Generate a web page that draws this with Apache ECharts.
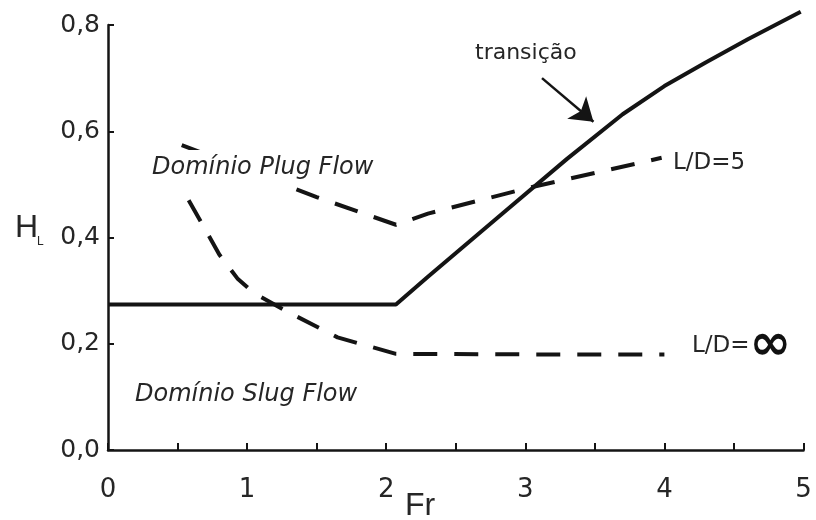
<!DOCTYPE html>
<html>
<head>
<meta charset="utf-8">
<script src="https://cdn.jsdelivr.net/npm/echarts@6/dist/echarts.min.js"></script>
<style>html,body{margin:0;padding:0;background:#fff}#c{width:816px;height:520px}</style>
</head>
<body>
<div id="c"></div>
<script>
// Transition curve (solid)
const transX = [0, 2.07, 2.3, 2.8, 3.3, 3.7, 4.0, 4.3, 4.6, 4.98];
const transY = [0.274, 0.274, 0.326, 0.437, 0.548, 0.632, 0.685, 0.730, 0.773, 0.825];
// L/D = 5 (dashed)
const ld5X = [0.53, 1.5, 2.07, 2.3, 3.0, 3.98];
const ld5Y = [0.574, 0.476, 0.424, 0.445, 0.492, 0.550];
// L/D = infinity (dashed)
const ldInfX = [0.58, 0.7, 0.8, 0.93, 1.05, 1.3, 1.65, 2.07, 3.0, 4.0];
const ldInfY = [0.470, 0.415, 0.368, 0.323, 0.295, 0.259, 0.212, 0.181, 0.180, 0.180];
// Arrow annotation (start, tip)
const arrowX = [3.12, 3.49];
const arrowY = [0.700, 0.618];
// Axis ticks
const xMin = 0, xMax = 5, xTickStep = 0.5;
const yMin = 0, yMax = 0.8, yTickStep = 0.2;

const zip = (xs, ys) => xs.map((x, i) => [x, ys[i]]);
const chart = echarts.init(document.getElementById('c'), null, {renderer: 'canvas'});
const ink = '#141414';
const txt = '#262626';

chart.setOption({
  animation: false,
  backgroundColor: '#fff',
  grid: {left: 108, right: 12.5, top: 25, bottom: 70},
  xAxis: {
    type: 'value', min: xMin, max: xMax, interval: xTickStep,
    axisLine: {lineStyle: {color: ink, width: 2.5}},
    axisTick: {inside: true, length: 7, lineStyle: {color: ink, width: 2}},
    splitLine: {show: false},
    axisLabel: {
      margin: 27, fontSize: 26, fontFamily: 'DejaVu Sans', color: txt,
      formatter: v => (Math.abs(v - Math.round(v)) < 1e-9 ? String(Math.round(v)) : '')
    }
  },
  yAxis: {
    type: 'value', min: yMin, max: yMax, interval: yTickStep,
    axisLine: {show: true, lineStyle: {color: ink, width: 2.5}},
    axisTick: {show: true, inside: true, length: 6, lineStyle: {color: ink, width: 2}},
    splitLine: {show: false},
    axisLabel: {
      margin: 8, fontSize: 25, fontFamily: 'DejaVu Sans', color: txt,
      formatter: v => v.toFixed(1).replace('.', ',')
    }
  },
  series: [
    {
      type: 'line', data: zip(transX, transY), showSymbol: false, clip: false,
      lineStyle: {color: ink, width: 4}, z: 3,
      markLine: {
        silent: true, symbol: ['none', 'arrow'], symbolSize: 22,
        label: {show: false},
        lineStyle: {color: ink, width: 2.5, type: 'solid'},
        data: [[{coord: [arrowX[0], arrowY[0]]}, {coord: [arrowX[1], arrowY[1]]}]]
      }
    },
    {
      type: 'line', data: zip(ld5X, ld5Y), showSymbol: false,
      lineStyle: {color: ink, width: 4, type: [24, 17]}, z: 2
    },
    {
      type: 'line', data: zip(ldInfX, ldInfY), showSymbol: false,
      lineStyle: {color: ink, width: 4, type: [24, 17]}, z: 2
    }
  ],
  graphic: [
    {type: 'text', left: 15, top: 212, z: 10,
     style: {text: 'H', fontSize: 32, fontFamily: 'Liberation Sans', fill: txt}},
    {type: 'text', left: 37, top: 236, z: 10,
     style: {text: 'L', fontSize: 12, fontFamily: 'Liberation Sans', fill: txt}},
    {type: 'text', left: 405, top: 490, z: 10,
     style: {text: 'Fr', fontSize: 32, fontFamily: 'Liberation Sans', fill: txt}},
    {type: 'text', x: 475, y: 53, z: 10,
     style: {text: 'transição', fontSize: 22, fontFamily: 'DejaVu Sans', fill: txt, verticalAlign: 'middle'}},
    {type: 'text', x: 150, y: 168, z: 10,
     style: {text: 'Domínio Plug Flow', fontSize: 24, fontStyle: 'italic', fontFamily: 'DejaVu Sans', fill: txt,
             verticalAlign: 'middle', backgroundColor: '#fff', padding: [2, 2, 10, 2]}},
    {type: 'text', x: 135, y: 395, z: 10,
     style: {text: 'Domínio Slug Flow', fontSize: 24, fontStyle: 'italic', fontFamily: 'DejaVu Sans', fill: txt,
             verticalAlign: 'middle'}},
    {type: 'text', x: 673, y: 163, z: 10,
     style: {text: 'L/D=5', fontSize: 23, fontFamily: 'DejaVu Sans', fill: txt, verticalAlign: 'middle'}},
    {type: 'text', x: 692, y: 346, z: 10,
     style: {text: '{a|L/D=}{b|∞}', fill: txt, verticalAlign: 'middle',
             rich: {a: {fontSize: 23, fontFamily: 'DejaVu Sans', fill: txt},
                    b: {fontSize: 50, fontWeight: 'bold', fontFamily: 'DejaVu Sans', fill: '#111'}}}}
  ]
});
</script>
</body>
</html>
